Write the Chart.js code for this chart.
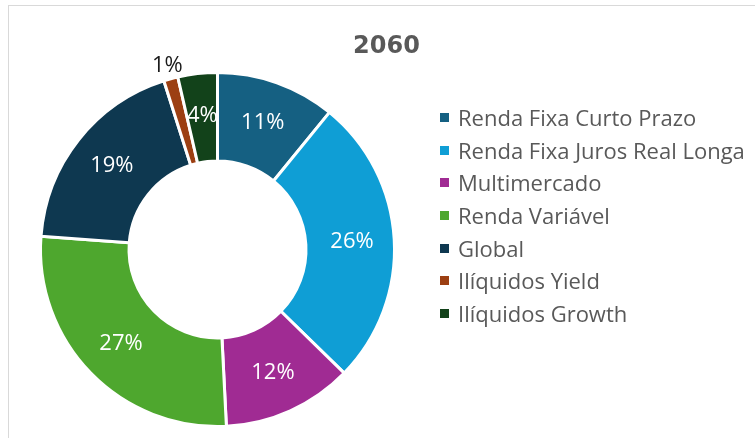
<!DOCTYPE html>
<html>
<head>
<meta charset="utf-8">
<script src="https://cdn.jsdelivr.net/npm/chart.js@4.4.0/dist/chart.umd.min.js"></script>
<style>
  html, body { margin: 0; padding: 0; background: #fff; overflow: hidden; }
  body { width: 755px; height: 438px; position: relative; font-family: "Open Sans", sans-serif; }
  .frame { position: absolute; left: 8px; top: 5px; width: 800px; height: 500px; border: 1px solid #d9d9d9; box-sizing: border-box; }
  #chartBox { position: absolute; left: 0; top: 0; width: 755px; height: 438px; }
  .title { position: absolute; left: 0; width: 773px; top: 29px; text-align: center; font-family: "DejaVu Sans", sans-serif; font-weight: bold; font-size: 24px; line-height: 32px; color: #595959; }
  .legend { position: absolute; left: 440px; top: 101px; margin: 0; padding: 0; list-style: none; }
  .legend li { height: 32.7px; line-height: 32.7px; font-size: 22px; color: #595959; white-space: nowrap; position: relative; padding-left: 18px; }
  .legend li span { position: absolute; left: 0; top: 12px; width: 9px; height: 9px; }
</style>
</head>
<body>
<div class="frame"></div>
<div id="chartBox"><canvas id="myChart" width="755" height="438"></canvas></div>
<div class="title">2060</div>
<ul class="legend"></ul>
<script>
// chart data
var labels = [
  "Renda Fixa Curto Prazo",
  "Renda Fixa Juros Real Longa",
  "Multimercado",
  "Renda Variável",
  "Global",
  "Ilíquidos Yield",
  "Ilíquidos Growth",
];
var values = [10.9, 26.4, 11.9, 27.0, 18.9, 1.3, 3.6];
// slice colors
var colors = [
  "#156082",
  "#0F9ED5",
  "#A02B93",
  "#4EA72E",
  "#0E3850",
  "#9C3F12",
  "#12421A",
];

var total = values.reduce((a, b) => a + b, 0);

// legend list built from the arrays
let list = document.querySelector(".legend");
labels.forEach((name, i) => {
  const item = document.createElement("li");
  item.innerHTML = `<span style="background-color:${colors[i]};"></span>${name}`;
  list.appendChild(item);
});

// percentage labels on the slices
const sliceLabels = {
  id: "sliceLabels",
  afterDatasetsDraw(chart) {
    const ctx = chart.ctx;
    const meta = chart.getDatasetMeta(0);
    ctx.save();
    ctx.font = "22px 'Open Sans'";
    ctx.textAlign = "center";
    ctx.textBaseline = "middle";
    meta.data.forEach((arc, i) => {
      const p = arc.getProps(["x", "y", "startAngle", "endAngle", "innerRadius", "outerRadius"], true);
      const mid = (p.startAngle + p.endAngle) / 2;
      const pct = Math.round((values[i] / total) * 100);
      let r = (p.innerRadius + p.outerRadius) / 2 + 2;
      ctx.fillStyle = "#ffffff";
      if (pct < 2) {
        // small slice: label outside
        r = p.outerRadius + 13;
        ctx.fillStyle = "#1a1a1a";
      }
      ctx.fillText(pct + "%", p.x + Math.cos(mid) * r, p.y + Math.sin(mid) * r);
    });
    ctx.restore();
  },
};

let chart = document.getElementById("myChart").getContext("2d");
new Chart(chart, {
  type: "doughnut",
  data: {
    labels: labels,
    datasets: [
      {
        data: values,
        backgroundColor: colors,
        borderColor: "#ffffff",
        borderWidth: 3,
      },
    ],
  },
  options: {
    responsive: false,
    animation: false,
    cutout: "50%",
    layout: { padding: { left: 39, top: 71, right: 359, bottom: 10 } },
    plugins: {
      legend: { display: false },
      tooltip: { enabled: false },
    },
  },
  plugins: [sliceLabels],
});
</script>
</body>
</html>
